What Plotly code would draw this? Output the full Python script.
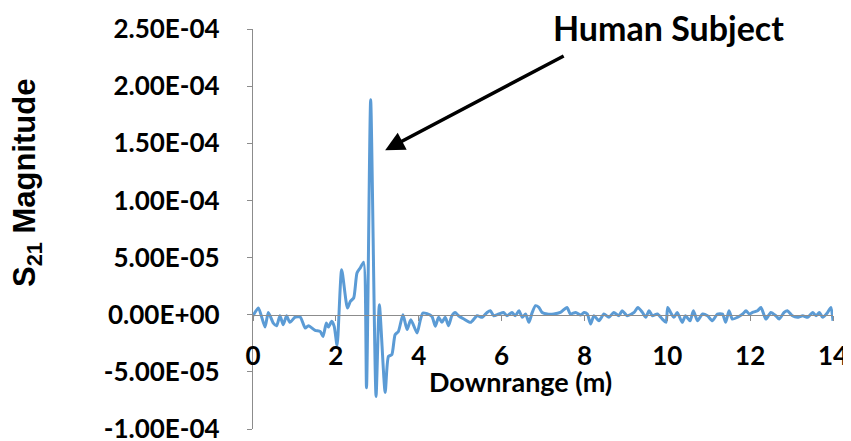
import plotly.graph_objects as go

# Downrange (m)
downrange_m = [
    0.00, 0.13, 0.29, 0.37, 0.49, 0.57, 0.65, 0.73, 0.81, 0.89, 1.02, 1.14,
    1.26, 1.34, 1.50, 1.62, 1.69, 1.77, 1.82, 1.90, 1.96, 2.03, 2.14, 2.28,
    2.35, 2.43, 2.51, 2.59, 2.67, 2.74, 2.84, 2.97, 3.05, 3.19, 3.27, 3.35,
    3.43, 3.51, 3.62, 3.72, 3.81, 3.96, 4.04, 4.10, 4.20, 4.32, 4.40, 4.48,
    4.56, 4.64, 4.72, 4.80, 4.88, 4.96, 5.09, 5.25, 5.41, 5.53, 5.65, 5.73,
    5.81, 5.93, 6.05, 6.13, 6.25, 6.33, 6.42, 6.50, 6.58, 6.66, 6.74, 6.82,
    6.90, 6.98, 7.10, 7.26, 7.42, 7.58, 7.66, 7.79, 7.91, 7.99, 8.07, 8.15,
    8.23, 8.35, 8.47, 8.59, 8.71, 8.83, 8.91, 9.03, 9.20, 9.29, 9.40, 9.48,
    9.56, 9.64, 9.76, 9.88, 9.97, 10.01, 10.08, 10.16, 10.24, 10.36, 10.44,
    10.55, 10.63, 10.73, 10.85, 10.97, 11.09, 11.21, 11.33, 11.41, 11.49,
    11.57, 11.69, 11.82, 11.90, 11.98, 12.06, 12.18, 12.26, 12.38, 12.50,
    12.62, 12.70, 12.82, 12.90, 13.02, 13.14, 13.27, 13.39, 13.51, 13.59,
    13.67, 13.75, 13.87, 13.95, 14.00,
]

# S21 magnitude
s21_magnitude = [
    -1.0e-6, 5.9e-6, -1.08e-5, 2.0e-6, -7.3e-6, -9.6e-6, -1.0e-6, -8.8e-6,
    -1.0e-6, -6.7e-6, -2.0e-6, -2.0e-6, -1.17e-5, -9.6e-6, -1.37e-5, -1.46e-5,
    -1.9e-5, -7.3e-6, -1.08e-5, -5.8e-6, -1.02e-5, -2.7e-5, 3.94e-5, 5.8e-6,
    1.17e-5, 1.46e-5, 3.65e-5, 4.1e-5, 4.6e-5, -6.4e-5, 1.88e-4, -7.15e-5,
    8.75e-6, -6.8e-5, -3.65e-5, -3.5e-5, -1.75e-5, -1.46e-5, 0.0, -1.3e-5,
    -4.4e-6, -1.6e-5, -4.4e-6, 1.5e-6, 0.9e-6, -1.5e-6, -1.0e-5, -2.3e-6,
    -6.7e-6, -2.3e-6, -9.6e-6, -0.9e-6, 2.0e-6, -0.9e-6, -3.8e-6, -6.7e-6,
    -0.9e-6, -2.3e-6, 2.0e-6, 3.5e-6, -0.9e-6, 0.6e-6, 2.0e-6, -0.9e-6,
    2.0e-6, -0.9e-6, 3.5e-6, -2.3e-6, 0.6e-6, -6.7e-6, 2.0e-6, 7.9e-6,
    6.4e-6, 2.0e-6, 0.6e-6, 0.6e-6, 2.0e-6, 6.4e-6, 0.6e-6, 2.0e-6,
    -0.3e-6, 2.0e-6, 0.6e-6, -8.2e-6, -0.9e-6, -5.3e-6, 0.6e-6, -2.3e-6,
    2.0e-6, -0.9e-6, 3.5e-6, -0.9e-6, 2.0e-6, 6.4e-6, 2.0e-6, -2.3e-6,
    3.5e-6, -0.9e-6, 0.6e-6, -3.8e-6, -6.7e-6, 6.4e-6, 2.0e-6, -2.3e-6,
    2.0e-6, -6.7e-6, -0.9e-6, -5.3e-6, 3.5e-6, -5.3e-6, 0.6e-6, -0.9e-6,
    -5.3e-6, 0.6e-6, 0.6e-6, -6.7e-6, 3.5e-6, -3.8e-6, -2.3e-6, 0.6e-6,
    3.5e-6, 0.6e-6, 2.0e-6, 3.5e-6, 6.4e-6, -3.8e-6, 2.0e-6, -0.9e-6,
    -3.8e-6, 2.0e-6, 3.5e-6, -0.9e-6, -2.3e-6, -0.9e-6, -2.3e-6, 2.0e-6,
    -0.9e-6, 2.0e-6, -2.3e-6, 2.0e-6, 6.4e-6, -5.3e-6,
]

x_ticks = [0, 2, 4, 6, 8, 10, 12, 14]
y_ticks = [-1.0e-4, -5.0e-5, 0.0, 5.0e-5, 1.0e-4, 1.5e-4, 2.0e-4, 2.5e-4]
y_tick_labels = ["-1.00E-04", "-5.00E-05", "0.00E+00", "5.00E-05",
                 "1.00E-04", "1.50E-04", "2.00E-04", "2.50E-04"]

Y_MIN, Y_MAX = -1.0e-4, 2.5e-4
AXIS_GRAY = "#8c8c8c"
LINE_BLUE = "#5B9BD5"

fig = go.Figure()
fig.add_trace(go.Scatter(
    x=downrange_m, y=s21_magnitude, mode="lines",
    line=dict(color=LINE_BLUE, width=3, shape="spline", smoothing=0.6),
    showlegend=False, hoverinfo="x+y",
))

tick_font = dict(family="Lato", size=26, color="black", weight=700)

# page body adds an 8px offset, so margins are compensated
fig.update_layout(
    width=851, height=441,
    margin=dict(l=245, r=26, t=21, b=20),
    paper_bgcolor="white", plot_bgcolor="white",
    xaxis=dict(
        range=[0, 14], tickvals=x_ticks, ticktext=[str(v) for v in x_ticks],
        anchor="free", position=(0 - Y_MIN) / (Y_MAX - Y_MIN),
        showline=True, linecolor=AXIS_GRAY, linewidth=1.3,
        ticks="outside", ticklen=5, tickcolor=AXIS_GRAY, tickwidth=1.3,
        showgrid=False, zeroline=False, tickfont=tick_font,
        ticklabelstandoff=13, automargin=False,
    ),
    yaxis=dict(
        range=[Y_MIN, Y_MAX], tickvals=y_ticks, ticktext=y_tick_labels,
        showline=True, linecolor=AXIS_GRAY, linewidth=1.3,
        ticks="outside", ticklen=5, tickcolor=AXIS_GRAY, tickwidth=1.3,
        showgrid=False, zeroline=False, tickfont=tick_font,
        ticklabelstandoff=22, automargin=False,
    ),
    annotations=[
        dict(text="Downrange (m)", xref="paper", yref="paper",
             x=(520 - 253) / 580, y=(429 - 381) / 400,
             xanchor="center", yanchor="middle", showarrow=False,
             font=dict(family="Lato", size=27, color="black", weight=700)),
        dict(text="S<sub>21</sub> Magnitude", xref="paper", yref="paper",
             x=(27 - 253) / 580, y=(429 - 183) / 400, textangle=-90,
             xanchor="center", yanchor="middle", showarrow=False,
             font=dict(family="Liberation Sans", size=31, color="black",
                       weight=700)),
        dict(text="Human Subject", xref="paper", yref="paper",
             x=(668 - 253) / 580, y=(429 - 27) / 400,
             xanchor="center", yanchor="middle", showarrow=False,
             font=dict(family="Lato", size=34, color="black", weight=700)),
        dict(text="", x=3.19, y=1.44e-4, xref="x", yref="y",
             ax=180, ay=-95, axref="pixel", ayref="pixel",
             showarrow=True, arrowhead=2, arrowsize=1.1, arrowwidth=3.5,
             arrowcolor="black", standoff=0),
    ],
)

fig.write_html("out.html")
